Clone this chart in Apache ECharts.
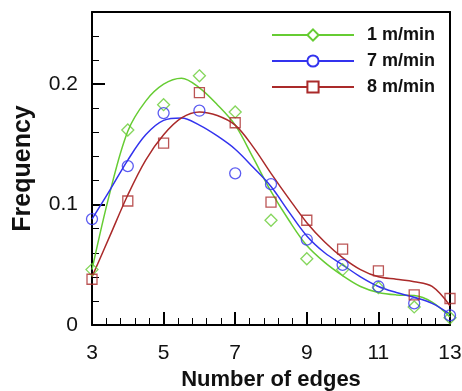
<!DOCTYPE html>
<html>
<head>
<meta charset="utf-8">
<script src="https://cdn.jsdelivr.net/npm/echarts@6/dist/echarts.min.js"></script>
<style>
html,body{margin:0;padding:0;background:#fff;}
#chart{width:462px;height:391px;}
</style>
</head>
<body>
<div id="chart"></div>
<script>
// ---- data ----
const seriesNames = ['1 m/min', '7 m/min', '8 m/min'];
const edges = [3, 4, 5, 6, 7, 8, 9, 10, 11, 12, 13];
const freq1 = [0.046, 0.162, 0.183, 0.207, 0.177, 0.087, 0.055, 0.046, 0.031, 0.015, 0.006];
const freq7 = [0.088, 0.132, 0.176, 0.178, 0.126, 0.117, 0.071, 0.050, 0.032, 0.018, 0.008];
const freq8 = [0.038, 0.103, 0.151, 0.193, 0.168, 0.102, 0.087, 0.063, 0.045, 0.025, 0.022];

// fitted curves
const fitX = [3, 3.5, 4, 4.5, 5, 5.5, 6, 6.5, 7, 7.5, 8, 8.5, 9, 9.5, 10, 10.5, 11, 11.5, 12, 12.5, 13];
const fit1 = [0.046, 0.110, 0.161, 0.186, 0.200, 0.205, 0.197, 0.183, 0.166, 0.139, 0.111, 0.087, 0.066, 0.052, 0.041, 0.032, 0.027, 0.025, 0.0245, 0.019, 0.0066];
const fit7 = [0.088, 0.112, 0.137, 0.158, 0.170, 0.172, 0.166, 0.157, 0.146, 0.131, 0.115, 0.094, 0.074, 0.060, 0.050, 0.040, 0.032, 0.027, 0.023, 0.018, 0.009];
const fit8 = [0.040, 0.074, 0.108, 0.137, 0.158, 0.172, 0.177, 0.174, 0.166, 0.148, 0.126, 0.105, 0.085, 0.069, 0.056, 0.046, 0.040, 0.038, 0.036, 0.032, 0.016];

const xMajorTicks = [3, 5, 7, 9, 11, 13];
const yMajorTicks = [0, 0.1, 0.2];

// ---- styling ----
const colors = ['#66cc33', '#3333ee', '#aa2a2a'];
const symbols = ['diamond', 'circle', 'rect'];
const symbolSizes = [12, 11, 10];
const FONT = 'Liberation Sans, Arial, sans-serif';

const xMinorTicks = [];
for (let k = 0; k <= 25; k++) {
  const v = Math.round((3 + 0.4 * k) * 10) / 10;
  if (xMajorTicks.indexOf(v) < 0) xMinorTicks.push(v);
}

const pts = [freq1, freq7, freq8];
const fits = [fit1, fit7, fit8];
const series = [];
for (let i = 0; i < 3; i++) {
  series.push({
    name: seriesNames[i],
    type: 'line',
    smooth: 0.35,
    symbol: symbols[i],
    symbolSize: symbolSizes[i],
    showSymbol: false,
    silent: true,
    z: 2,
    lineStyle: { color: colors[i], width: 1.5 },
    itemStyle: { color: '#fff', borderColor: colors[i], borderWidth: 1.3 },
    data: fitX.map((x, j) => [x, fits[i][j]])
  });
}
for (let i = 0; i < 3; i++) {
  series.push({
    name: seriesNames[i] + ' data',
    type: 'scatter',
    symbol: symbols[i],
    symbolSize: symbolSizes[i],
    clip: false,
    z: 3,
    itemStyle: { color: 'rgba(255,255,255,0)', borderColor: colors[i], borderWidth: 1.3 },
    data: edges.map((x, j) => [x, pts[i][j]])
  });
}

const frameAxis = (extra) => Object.assign({
  type: 'value',
  axisLine: { show: true, onZero: false, lineStyle: { color: '#000', width: 2 } },
  axisTick: { show: false },
  axisLabel: { show: false },
  splitLine: { show: false }
}, extra);

const chart = echarts.init(document.getElementById('chart'));
chart.setOption({
  animation: false,
  backgroundColor: '#fff',
  grid: { left: 92, right: 12, top: 12, bottom: 66, outerBoundsMode: 'none', containLabel: false },
  legend: {
    data: seriesNames,
    orient: 'vertical',
    left: 271, top: 26, padding: 0,
    itemWidth: 82, itemHeight: 14, itemGap: 8,
    textStyle: { fontFamily: FONT, fontSize: 18, fontWeight: 'bold', color: '#111', padding: [0, 0, 0, 8] }
  },
  xAxis: [{
    type: 'value', min: 3, max: 13, interval: 1,
    name: 'Number of edges', nameLocation: 'middle', nameGap: 42,
    nameTextStyle: { fontFamily: FONT, fontSize: 22, fontWeight: 'bold', color: '#111' },
    axisLine: { show: true, onZero: false, lineStyle: { color: '#000', width: 2 } },
    axisTick: { show: true, inside: true, length: 13, lineStyle: { color: '#000', width: 2 }, customValues: xMajorTicks },
    axisLabel: { customValues: xMajorTicks, fontFamily: FONT, fontSize: 21, color: '#111', margin: 18 },
    splitLine: { show: false }
  }, {
    type: 'value', min: 3, max: 13, interval: 1, position: 'bottom', offset: 0,
    axisLine: { show: false },
    axisTick: { show: true, inside: true, length: 7, lineStyle: { color: '#000', width: 1 }, customValues: xMinorTicks },
    axisLabel: { show: false },
    splitLine: { show: false }
  }, frameAxis({ min: 3, max: 13, interval: 1, position: 'top', offset: 0 })],
  yAxis: [{
    type: 'value', min: 0, max: 0.26, interval: 0.02,
    name: 'Frequency', nameLocation: 'middle', nameGap: 56, nameRotate: 90,
    nameTextStyle: { fontFamily: FONT, fontSize: 25, fontWeight: 'bold', color: '#111' },
    axisLine: { show: true, onZero: false, lineStyle: { color: '#000', width: 2 } },
    axisTick: { show: true, inside: true, length: 13, lineStyle: { color: '#000', width: 2 }, customValues: yMajorTicks },
    axisLabel: { customValues: yMajorTicks, fontFamily: FONT, fontSize: 21, color: '#111', margin: 14 },
    splitLine: { show: false }
  }, {
    type: 'value', min: 0, max: 0.26, interval: 0.02, position: 'left', offset: 0,
    axisLine: { show: false },
    axisTick: { show: true, inside: true, length: 7, lineStyle: { color: '#000', width: 1 } },
    axisLabel: { show: false },
    splitLine: { show: false }
  }, frameAxis({ min: 0, max: 0.26, interval: 0.02, position: 'right', offset: 0 })],
  series: series
});
</script>
</body>
</html>
